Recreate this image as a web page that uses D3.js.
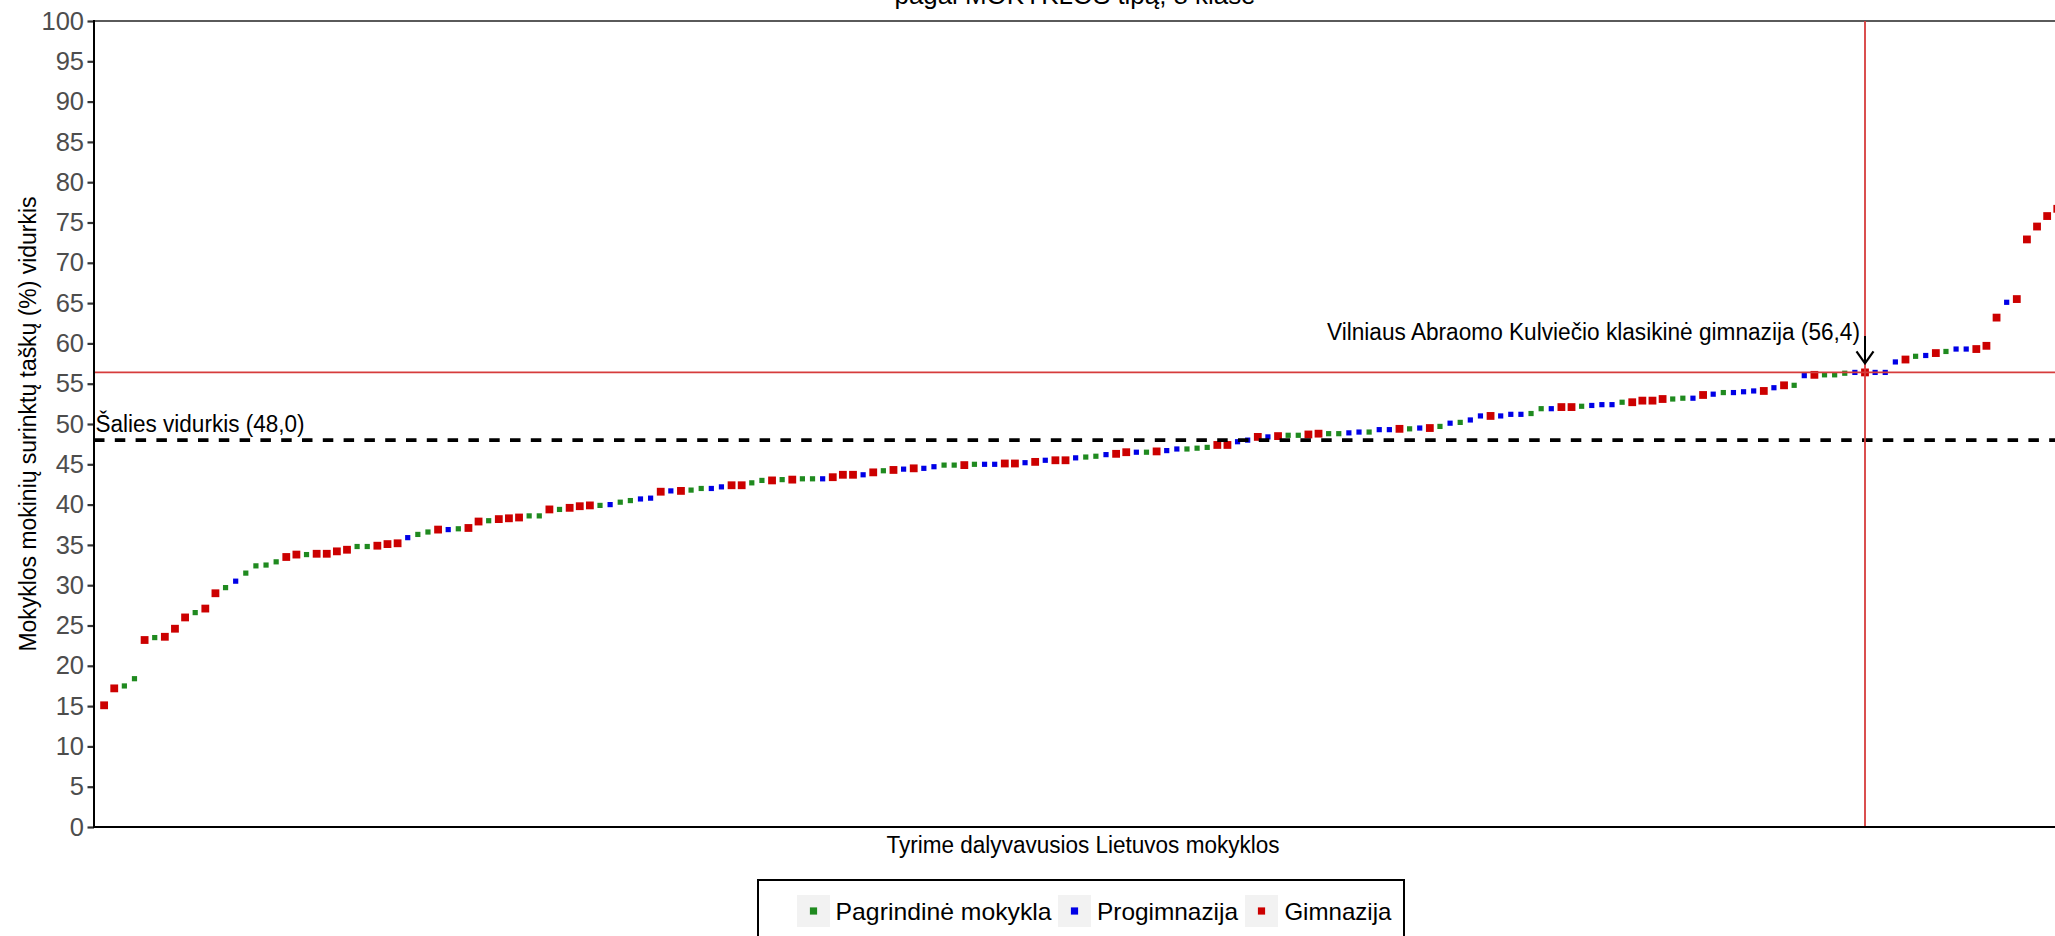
<!DOCTYPE html>
<html>
<head>
<meta charset="utf-8">
<script src="https://cdn.jsdelivr.net/npm/d3@7"></script>
<style>
  html, body { margin: 0; padding: 0; background: #fff; overflow: hidden; }
  svg { display: block; font-family: "Liberation Sans", Arial, sans-serif; }
</style>
</head>
<body>
<svg id="chart" width="2055" height="936"></svg>
<script>
// ---- data ----
const categories = ["Pagrindinė mokykla", "Progimnazija", "Gimnazija"];
const categoryColors = ["#1f8a1f", "#0000e6", "#cc0000"];

// school type of each school (index into categories), in plotted order
const schoolType = [
  2,2,0,0,2,0,2,2,2,0,
  2,2,0,1,0,0,0,0,2,2,
  0,2,2,2,2,0,0,2,2,2,
  1,0,0,2,1,0,2,2,0,2,
  2,2,0,0,2,0,2,2,2,0,
  1,0,0,1,1,2,1,2,0,0,
  1,1,2,2,0,0,2,0,2,0,
  0,1,2,2,2,1,2,0,2,1,
  2,1,1,0,0,2,0,1,1,2,
  2,1,2,1,2,2,1,0,0,1,
  2,2,1,0,2,1,1,0,0,0,
  2,2,1,1,2,1,2,0,0,2,
  2,0,0,1,1,0,1,1,2,0,
  1,2,0,1,0,1,1,2,1,1,
  1,0,0,1,2,2,0,1,1,1,
  0,2,2,2,2,0,0,1,2,1,
  0,1,1,1,2,1,2,0,1,2,
  0,0,0,1,2,1,1,1,2,0,
  1,2,0,1,1,2,2,2,1,2,
  2,2,2,2
];

// school mean score (%)
const schoolScore = [
  15.1, 17.2, 17.5, 18.4, 23.2, 23.5, 23.6, 24.6, 26.0, 26.6,
  27.1, 29.0, 29.7, 30.5, 31.5, 32.4, 32.5, 32.9, 33.5, 33.8,
  33.8, 33.9, 33.9, 34.2, 34.4, 34.8, 34.8, 34.9, 35.1, 35.2,
  35.9, 36.3, 36.6, 36.9, 36.9, 37.0, 37.1, 37.9, 38.0, 38.2,
  38.3, 38.4, 38.6, 38.6, 39.4, 39.4, 39.6, 39.8, 39.9, 39.9,
  40.0, 40.3, 40.5, 40.7, 40.8, 41.6, 41.7, 41.7, 41.8, 42.0,
  42.0, 42.2, 42.4, 42.4, 42.7, 43.0, 43.0, 43.1, 43.1, 43.2,
  43.2, 43.2, 43.4, 43.7, 43.7, 43.7, 44.0, 44.2, 44.3, 44.4,
  44.5, 44.5, 44.7, 44.9, 44.9, 44.9, 45.0, 45.0, 45.0, 45.1,
  45.1, 45.2, 45.3, 45.5, 45.5, 45.5, 45.8, 45.9, 46.0, 46.2,
  46.3, 46.5, 46.5, 46.5, 46.6, 46.7, 46.9, 46.9, 47.0, 47.1,
  47.4, 47.4, 47.8, 48.0, 48.4, 48.4, 48.5, 48.6, 48.6, 48.7,
  48.8, 48.8, 48.8, 48.9, 49.0, 49.0, 49.3, 49.3, 49.4, 49.4,
  49.5, 49.5, 49.7, 50.1, 50.2, 50.5, 51.0, 51.0, 51.0, 51.2,
  51.2, 51.3, 51.9, 51.9, 52.1, 52.1, 52.2, 52.3, 52.4, 52.4,
  52.7, 52.7, 52.9, 52.9, 53.1, 53.1, 53.2, 53.2, 53.6, 53.7,
  53.9, 53.9, 54.0, 54.1, 54.1, 54.5, 54.8, 54.8, 56.0, 56.1,
  56.1, 56.1, 56.3, 56.4, 56.4, 56.4, 56.4, 57.7, 58.0, 58.4,
  58.5, 58.8, 59.0, 59.3, 59.3, 59.3, 59.7, 63.2, 65.1, 65.5,
  72.9, 74.5, 75.8, 76.7
];

const yTicks = [0,5,10,15,20,25,30,35,40,45,50,55,60,65,70,75,80,85,90,95,100];
const nationalMean = 48.0;
const nationalLabel = "Šalies vidurkis (48,0)";
const highlightRank = 175;          // position of the highlighted school
const highlightScore = 56.4;
const highlightLabel = "Vilniaus Abraomo Kulviečio klasikinė gimnazija (56,4)";
const titleText = "pagal MOKYKLOS tipą, 8 klasė";
const xTitle = "Tyrime dalyvavusios Lietuvos mokyklos";
const yTitle = "Mokyklos mokinių surinktų taškų (%) vidurkis";

// ---- layout ----
const svg = d3.select("#chart");
const panelLeft = 94, panelTop = 21, panelBottom = 827;
const step = 10.12;
const nSchools = schoolScore.length;

const x = d3.scaleLinear().domain([0, nSchools + 1]).range([panelLeft, panelLeft + (nSchools + 1) * step]);
const y = d3.scaleLinear().domain([0, 100]).range([panelBottom, panelTop]);
const panelRight = x(nSchools + 1);

const points = schoolScore.map((v, i) => ({ rank: i + 1, score: v, type: schoolType[i] }));

// title (partly outside the picture, as in the original)
svg.append("text")
  .attr("x", 1075).attr("y", 4)
  .attr("text-anchor", "middle")
  .attr("font-size", 26)
  .attr("textLength", 361).attr("lengthAdjust", "spacingAndGlyphs")
  .attr("fill", "#000")
  .text(titleText);

// panel top border
svg.append("line")
  .attr("x1", panelLeft).attr("x2", panelRight).attr("y1", panelTop).attr("y2", panelTop)
  .attr("stroke", "#5a5a5a").attr("stroke-width", 2);

// points
const sizes = [5.2, 5.2, 7.8];
svg.append("g").selectAll("rect")
  .data(points)
  .join("rect")
  .attr("x", d => x(d.rank) - sizes[d.type] / 2)
  .attr("y", d => y(d.score) - sizes[d.type] / 2)
  .attr("width", d => sizes[d.type])
  .attr("height", d => sizes[d.type])
  .attr("fill", d => categoryColors[d.type]);

// national mean dashed line
svg.append("line")
  .attr("x1", panelLeft).attr("x2", panelRight)
  .attr("y1", y(nationalMean)).attr("y2", y(nationalMean))
  .attr("stroke", "#000").attr("stroke-width", 3.6)
  .attr("stroke-dasharray", "10.5,10.3");

svg.append("text")
  .attr("x", 95.5).attr("y", 432)
  .attr("font-size", 23)
  .attr("textLength", 209).attr("lengthAdjust", "spacingAndGlyphs")
  .attr("fill", "#000")
  .text(nationalLabel);

// highlighted school lines
const redLine = "#d63c3c";
svg.append("line")
  .attr("x1", panelLeft).attr("x2", panelRight)
  .attr("y1", y(highlightScore)).attr("y2", y(highlightScore))
  .attr("stroke", redLine).attr("stroke-width", 1.8);
svg.append("line")
  .attr("x1", x(highlightRank)).attr("x2", x(highlightRank))
  .attr("y1", panelTop).attr("y2", panelBottom)
  .attr("stroke", redLine).attr("stroke-width", 1.8);

// annotation + arrow
const hx = x(highlightRank), hy = y(highlightScore);
svg.append("text")
  .attr("x", hx - 5).attr("y", 340)
  .attr("text-anchor", "end")
  .attr("font-size", 23.5)
  .attr("textLength", 533).attr("lengthAdjust", "spacingAndGlyphs")
  .attr("fill", "#000")
  .text(highlightLabel);
svg.append("line")
  .attr("x1", hx).attr("x2", hx).attr("y1", 336).attr("y2", hy - 9)
  .attr("stroke", "#000").attr("stroke-width", 2);
svg.append("path")
  .attr("d", `M${hx - 8.5},${hy - 21} L${hx},${hy - 9} L${hx + 8.5},${hy - 21}`)
  .attr("fill", "none").attr("stroke", "#000").attr("stroke-width", 2.2);

// y axis
const yAxis = d3.axisLeft(y).tickValues(yTicks).tickSize(6.5).tickPadding(3.5);
const gy = svg.append("g").attr("transform", `translate(${panelLeft},0)`).call(yAxis);
gy.select(".domain").remove();
gy.selectAll(".tick line").attr("stroke", "#333").attr("stroke-width", 2.2);
gy.selectAll(".tick text")
  .attr("font-size", 25.5)
  .attr("font-family", "Liberation Sans, Arial, sans-serif")
  .attr("fill", "#4d4d4d");

// axis lines
svg.append("line")
  .attr("x1", panelLeft).attr("x2", panelLeft).attr("y1", panelTop - 1).attr("y2", panelBottom + 1)
  .attr("stroke", "#000").attr("stroke-width", 2);
svg.append("line")
  .attr("x1", panelLeft - 1).attr("x2", panelRight).attr("y1", panelBottom).attr("y2", panelBottom)
  .attr("stroke", "#000").attr("stroke-width", 2);

// axis titles
svg.append("text")
  .attr("x", 1083).attr("y", 853)
  .attr("text-anchor", "middle")
  .attr("font-size", 23)
  .attr("textLength", 393).attr("lengthAdjust", "spacingAndGlyphs")
  .attr("fill", "#000")
  .text(xTitle);

svg.append("text")
  .attr("transform", `translate(36,424) rotate(-90)`)
  .attr("text-anchor", "middle")
  .attr("font-size", 23)
  .attr("textLength", 455).attr("lengthAdjust", "spacingAndGlyphs")
  .attr("fill", "#000")
  .text(yTitle);

// legend
const legend = svg.append("g");
legend.append("rect")
  .attr("x", 758).attr("y", 880).attr("width", 646).attr("height", 70)
  .attr("fill", "#fff").attr("stroke", "#000").attr("stroke-width", 2);
const keyX = [797, 1058, 1245];
const textX = [835.6, 1097, 1284.4];
const textW = [216, 141, 107];
categories.forEach((c, i) => {
  legend.append("rect")
    .attr("x", keyX[i]).attr("y", 895).attr("width", 33).attr("height", 32)
    .attr("fill", "#f2f2f2");
  legend.append("rect")
    .attr("x", keyX[i] + 16.5 - 3.6).attr("y", 911 - 3.6).attr("width", 7.2).attr("height", 7.2)
    .attr("fill", categoryColors[i]);
  legend.append("text")
    .attr("x", textX[i]).attr("y", 920)
    .attr("font-size", 24)
    .attr("textLength", textW[i]).attr("lengthAdjust", "spacingAndGlyphs")
    .attr("fill", "#000")
    .text(c);
});
</script>
</body>
</html>
